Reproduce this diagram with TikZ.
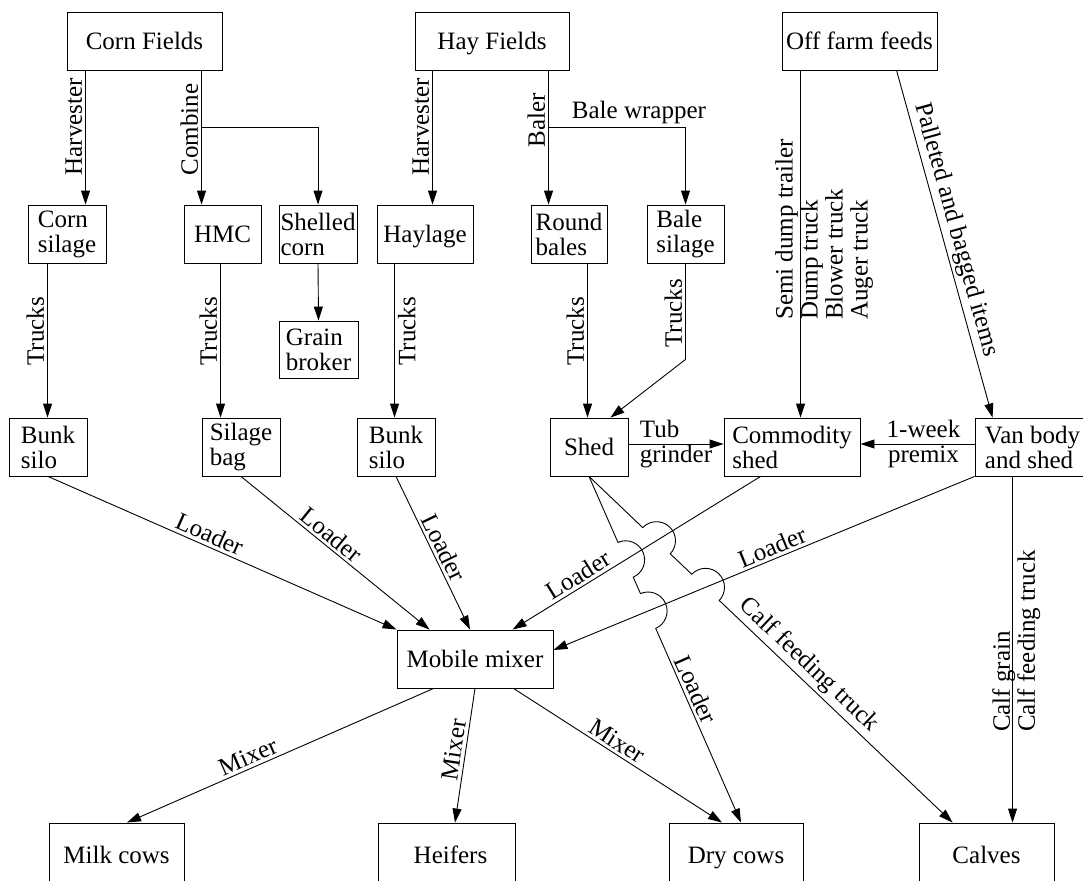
\documentclass[tikz,border=0pt]{standalone}
\usepackage{fontspec}
\setmainfont{Liberation Serif}
\usetikzlibrary{arrows.meta,calc,intersections}
\begin{document}
\begin{tikzpicture}[x=1pt,y=-1pt,
  font=\fontsize{25}{25}\selectfont,
  box/.style={draw, line width=0.9pt, inner sep=0pt, align=left, minimum height=58pt},
  one/.style={text height=16.5pt, text depth=0pt},
  arr/.style={line width=0.9pt, -{Triangle[length=14pt,width=9pt]}},
  lab/.style={inner sep=3pt, font=\fontsize{25}{25}\selectfont},
  vlab/.style={lab, rotate=90, anchor=south},
  vlabr/.style={lab, rotate=90, anchor=north},
  slab/.style={lab, sloped, above},
]
\useasboundingbox (0,0) rectangle (1083,880);
\fill[white] (0,0) rectangle (1083,880);

% nodes
\node[box, one, minimum width=155pt] (corn) at (144.5,41) {Corn Fields};
\node[box, one, minimum width=154pt] (hay) at (492,41) {Hay Fields};
\node[box, one, minimum width=155pt] (off) at (859.5,41) {Off farm feeds};
\node[box, minimum width=78pt] (cs) at (67,234) {Corn\\silage};
\node[box, one, minimum width=77pt] (hmc) at (222.5,234) {HMC};
\node[box, minimum width=78pt] (shc) at (318,234) {Shelled\\corn};
\node[box, one, minimum width=96pt] (hyl) at (425,234) {Haylage};
\node[box, minimum width=76pt] (rb) at (569,234) {Round\\bales};
\node[box, minimum width=77pt] (bs) at (685.5,234) {Bale\\silage};
\node[box, minimum width=79pt, minimum height=57pt] (gb) at (318.5,349.5) {Grain\\broker};
\node[box, minimum width=78pt] (bk1) at (48,447) {Bunk\\silo};
\node[box, minimum width=78pt] (sb) at (241,447) {Silage\\bag};
\node[box, minimum width=78pt] (bk2) at (396,447) {Bunk\\silo};
\node[box, one, minimum width=78pt] (shed) at (589,447) {Shed};
\node[box, minimum width=136pt] (comm) at (792,447) {Commodity\\shed};
\node[box, minimum width=115pt] (van) at (1032.5,447) {Van body\\and shed};
\node[box, one, minimum width=156pt] (mix) at (475,659) {Mobile mixer};
\node[box, one, minimum width=135pt, minimum height=64pt] (milk) at (116.5,855) {Milk cows};
\node[box, one, minimum width=137pt, minimum height=64pt] (heif) at (446.5,855) {\hspace*{8pt}Heifers};
\node[box, one, minimum width=134pt, minimum height=64pt] (dry) at (736,855) {Dry cows};
\node[box, one, minimum width=135pt, minimum height=64pt] (calves) at (986.5,855) {Calves};

% top row connectors
\coordinate (p1) at ([xshift=19pt]corn.south west);
\draw[arr] (p1) -- node[vlab, pos=0.42]{Harvester} (p1 |- cs.north);
\coordinate (p2) at ([xshift=135pt]corn.south west);
\draw[arr] (p2) -- node[vlab, pos=0.44]{Combine} (p2 |- hmc.north);
\coordinate (p2b) at ($(p2)+(0,57)$);
\draw[arr] (p2b) -| (shc.north);

\coordinate (p3) at ([xshift=18pt]hay.south west);
\draw[arr] (p3) -- node[vlab, pos=0.42]{Harvester} (p3 |- hyl.north);
\coordinate (p4) at ([xshift=134pt]hay.south west);
\draw[arr] (p4) -- node[vlab, pos=0.37]{Baler} (p4 |- rb.north);
\coordinate (p4b) at ($(p4)+(0,57)$);
\draw[arr] (p4b) -| node[lab, pos=0.33, above]{Bale wrapper} (bs.north);

\coordinate (p5) at ([xshift=19pt]off.south west);
\draw[arr] (p5) -- (p5 |- comm.north);
\node[lab, rotate=90, align=left, anchor=north west, inner sep=0pt] (trk) at (775,320)
  {Semi dump trailer\\Dump truck\\Blower truck\\Auger truck};
\draw[arr] ([xshift=115pt]off.south west) -- node[slab, pos=0.47]{Palleted and bagged items} ([xshift=18pt]van.north west);

% second row connectors
\coordinate (p7) at ([xshift=20pt]cs.south west);
\draw[arr] (p7) -- node[vlab, pos=0.44]{Trucks} (p7 |- bk1.north);
\coordinate (p8) at ([xshift=37pt]hmc.south west);
\draw[arr] (p8) -- node[vlab, pos=0.44]{Trucks} (p8 |- sb.north);
\draw[arr] (shc.south) -- (gb.north);
\coordinate (p10) at ([xshift=18pt]hyl.south west);
\draw[arr] (p10) -- node[vlabr, pos=0.44]{Trucks} (p10 |- bk2.north);
\coordinate (p11) at ([xshift=57pt]rb.south west);
\draw[arr] (p11) -- node[vlab, pos=0.44]{Trucks} (p11 |- shed.north);
\coordinate (p12) at ($(bs.south)+(0,96)$);
\draw[arr] (bs.south) -- node[vlab, pos=0.52]{Trucks} (p12) -- ([xshift=-18pt]shed.north east);

% third row
\draw[arr] ([yshift=3pt]shed.east) -- node[lab, align=left, inner sep=0pt]{Tub\\grinder} ([yshift=3pt]comm.west);
\draw[arr] ([yshift=3pt]van.west) -- node[lab, align=center, inner sep=0pt, xshift=6pt]{1-week\\premix} ([yshift=3pt]comm.east);

% loaders to mixer
\draw[arr] (bk1.south) -- node[slab, pos=0.45]{Loader} (mix.north west);
\draw[arr] (sb.south) -- node[slab, pos=0.44]{Loader} ([xshift=33pt]mix.north west);
\draw[arr] (bk2.south) -- node[slab, pos=0.5]{Loader} ([xshift=-5pt]mix.north);
\coordinate (cA) at ([xshift=37pt]comm.south west);
\coordinate (cB) at ([xshift=116pt]mix.north west);
\draw[arr, name path=Lc] (cA) -- node[slab, pos=0.71]{Loader} (cB);
\coordinate (vA) at (van.south west);
\coordinate (vB) at ([yshift=9pt]mix.east);
\draw[arr, name path=Lv] (vA) -- node[slab, pos=0.47]{Loader} (vB);

% shed to dry cows and calves with hops
\coordinate (sA) at (shed.south);
\coordinate (s1B) at ([xshift=5pt]dry.north);
\coordinate (s2B) at ([xshift=34pt]calves.north west);
\path[name path=S1] (sA) -- (s1B);
\path[name path=S2] (sA) -- (s2B);
\path[name intersections={of=S1 and Lc, by=x1}];
\path[name intersections={of=S1 and Lv, by=x3}];
\path[name intersections={of=S2 and Lc, by=x2}];
\path[name intersections={of=S2 and Lv, by=x4}];
\draw[arr] let \p1=($(s1B)-(sA)$), \n1={atan2(\y1,\x1)} in
  (sA) -- ($(x1)!19pt!(sA)$) arc[start angle=\n1+180, end angle=\n1, radius=19pt]
  -- ($(x3)!19pt!(sA)$) arc[start angle=\n1+180, end angle=\n1, radius=19pt]
  -- node[slab, pos=0.34]{Loader} (s1B);
\draw[arr] let \p1=($(s2B)-(sA)$), \n1={atan2(\y1,\x1)} in
  (sA) -- ($(x2)!19pt!(sA)$) arc[start angle=\n1+180, end angle=\n1, radius=19pt]
  -- ($(x4)!19pt!(sA)$) arc[start angle=\n1+180, end angle=\n1, radius=19pt]
  -- node[slab, pos=0.34]{Calf feeding truck} (s2B);

% van to calves
\coordinate (p22) at ([xshift=38pt]van.south west);
\draw[arr] (p22) -- (p22 |- calves.north);
\node[lab, rotate=90, align=left, anchor=north west, inner sep=0pt] (cgl) at (992,732)
  {Calf grain\\Calf feeding truck};

% mixer outputs
\draw[arr] ([xshift=37pt]mix.south west) -- node[slab, pos=0.59]{Mixer} ([xshift=10.5pt]milk.north);
\draw[arr] (mix.south) -- node[slab, pos=0.47]{Mixer} ([xshift=8.5pt]heif.north);
\draw[arr] ([xshift=117pt]mix.south west) -- node[slab, pos=0.466]{Mixer} ([xshift=-14pt]dry.north);
\end{tikzpicture}
\end{document}
